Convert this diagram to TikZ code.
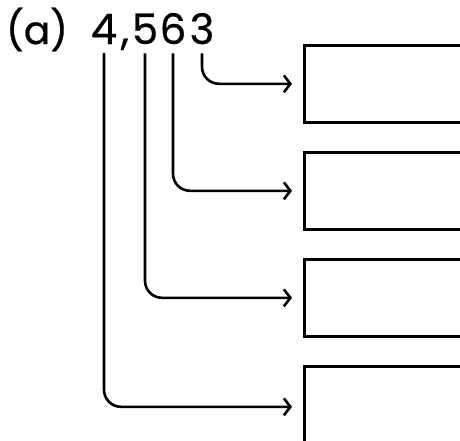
\documentclass[tikz,border=0pt]{standalone}
\usepackage{fontspec}
\setmainfont{Poppins}
\newfontfamily\digitfont{Poppins}[FakeBold=0.6]
\usetikzlibrary{arrows.meta}
\begin{document}
\begin{tikzpicture}[x=1pt,y=-1pt,
  digit/.style={inner sep=0pt, anchor=base, font=\digitfont\fontsize{42}{42}\selectfont},
  box/.style={draw, line width=2.6pt, anchor=north west, minimum width=220pt, minimum height=77pt, inner sep=0pt},
  conn/.style={line width=2.6pt, rounded corners=17pt, -{Straight Barb[length=6.5pt,width=17pt,line width=2.6pt]}, shorten >=11pt}]
\useasboundingbox (0,0) rectangle (460,440);
\clip (0,0) rectangle (460,440);
\node[digit, font=\digitfont\fontsize{39}{39}\selectfont] (lab) at (37,44) {(a)};
\node[digit] (d4) at (104,44) {4};
\node[digit] (dc) at (125,44) {,};
\node[digit] (d5) at (145,44) {5};
\node[digit] (d6) at (173,44) {6};
\node[digit] (d3) at (202,44) {3};
\node[box] (b1) at (303,44) {};
\node[box] (b2) at (303,151) {};
\node[box] (b3) at (303,258) {};
\node[box] (b4) at (303,365) {};
\draw[conn] ([yshift=-9pt]d3.south) |- (b1.west);
\draw[conn] ([yshift=-9pt]d6.south) |- (b2.west);
\draw[conn] ([yshift=-9pt]d5.south) |- (b3.west);
\draw[conn] ([yshift=-9pt]d4.south) |- ([yshift=-2pt]b4.west);
\end{tikzpicture}
\end{document}
